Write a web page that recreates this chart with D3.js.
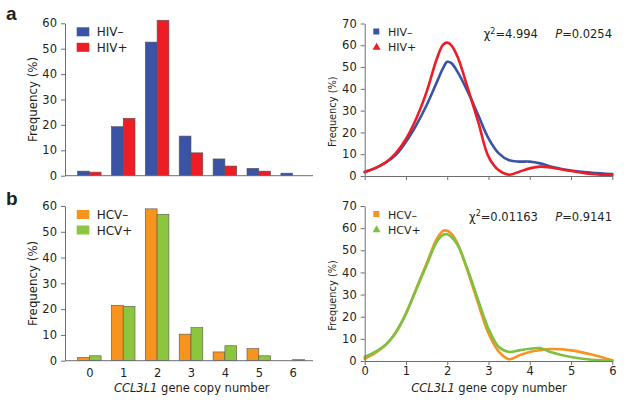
<!DOCTYPE html>
<html><head><meta charset="utf-8">
<script src="https://cdn.jsdelivr.net/npm/d3@7"></script>
<style>
body{margin:0;background:#fff}
text{font-family:"DejaVu Sans",Verdana,sans-serif;fill:#231f20}
</style>
</head><body><svg id="c" width="624" height="402"></svg>
<script>
// ---- data ----
const copyNumbers = [0,1,2,3,4,5,6];
const hivNegBars = [1.8,19.3,52.6,15.6,6.6,2.9,1.0];
const hivPosBars = [1.4,22.6,61.2,9.0,3.8,1.8,0];
const hcvNegBars = [1.3,21.5,58.9,10.3,3.4,4.7,0];
const hcvPosBars = [1.9,21.1,56.8,12.8,5.8,1.9,0.4];
const barTicks = [0,10,20,30,40,50,60];
const curveTicks = [0,10,20,30,40,50,60,70];
const curveX = [0,0.25,0.5,0.75,1,1.25,1.5,1.75,1.9,2,2.1,2.25,2.5,2.75,3,3.25,3.5,3.75,4,4.25,4.5,5,5.5,6];
const hivNegCurve = [2.0,3.5,6.1,9.6,15.7,23.4,32.5,43.2,49.5,52.4,51.8,47.8,38.6,28,17.3,10.4,7.2,6.6,6.6,5.8,4.4,2.5,1.5,0.9];
const hivPosCurve = [1.7,3.6,6.1,10.4,17,26.4,38.6,53.9,60.3,61.2,60,54.7,40.2,24.9,8.9,2.6,0.6,2.0,3.5,4.3,3.9,2.3,0.9,0.3];
const hcvNegCurve = [1.0,3.5,7.2,12.8,21.4,32.7,44,55.3,58.8,58.8,57.5,53,40.3,26,12.5,4.2,0.8,2.6,4.1,4.9,5.4,4.8,2.9,0.3];
const hcvPosCurve = [1.8,4.1,7.2,12.8,21.4,32.3,43.3,54,57,57.2,56,52.5,41,27.5,14.6,6.3,4.1,4.8,5.5,5.8,4.1,1.8,0.6,0.2];
const hivLabels = ["HIV\u2013","HIV+"];
const hcvLabels = ["HCV\u2013","HCV+"];
const hivStats = {chi:"4.994", p:"0.0254"};
const hcvStats = {chi:"0.01163", p:"0.9141"};

const C = {blue:"#3a53a4", red:"#ee1c25", orange:"#f7941d", green:"#8cc63f", axis:"#6d6e71"};
const svg = d3.select("#c");

svg.append("text").attr("x",6).attr("y",20).text("a")
  .style("font-family","Liberation Sans, Arial, sans-serif").style("font-weight","bold").style("font-size","19px");
svg.append("text").attr("x",6).attr("y",205).text("b")
  .style("font-family","Liberation Sans, Arial, sans-serif").style("font-weight","bold").style("font-size","19px");

function styleAxis(g){
  g.selectAll("path,line").attr("stroke",C.axis).attr("stroke-width",1);
  g.selectAll("text").style("font-size","11.5px").style("font-family","DejaVu Sans, Verdana, sans-serif").attr("fill","#231f20");
}

function xLabel(g, cx){
  const t = g.append("text").attr("x",cx).attr("y",392).attr("text-anchor","middle").style("font-size","11.5px");
  t.append("tspan").style("font-style","italic").text("CCL3L1");
  t.append("tspan").text(" gene copy number");
}

function barPanel(top, bottom, neg, pos, cols, labels, showX){
  const y = d3.scaleLinear().domain([0,60]).range([bottom, top]);
  const x = d3.scalePoint().domain(copyNumbers).range([89.3, 292.7]);
  const bw = 11.8;
  const g = svg.append("g");
  copyNumbers.forEach((c,i)=>{
    [[neg[i],cols[0],-bw],[pos[i],cols[1],0]].forEach(([v,col,off])=>{
      if(v<=0) return;
      g.append("rect").attr("x",x(c)+off).attr("y",y(v)).attr("width",bw).attr("height",y(0)-y(v))
        .attr("fill",col).attr("stroke","#555").attr("stroke-width",0.6);
    });
  });
  const ya = g.append("g").attr("transform","translate(65,0)")
    .call(d3.axisLeft(y).tickValues(barTicks).tickSize(4).tickSizeOuter(0).tickPadding(4));
  styleAxis(ya);
  g.append("line").attr("x1",65).attr("x2",313).attr("y1",y(0)).attr("y2",y(0)).attr("stroke",C.axis);
  if(showX){
    const xa = g.append("g").attr("transform",`translate(0,${y(0)})`)
      .call(d3.axisBottom(x).tickSize(0).tickPadding(8.5));
    xa.select(".domain").remove();
    styleAxis(xa);
    xLabel(g, 191.7);
  }
  g.append("text").attr("transform",`translate(37,${(top+bottom)/2}) rotate(-90)`)
    .attr("text-anchor","middle").style("font-size","11.8px").text("Frequency (%)");
  labels.forEach((l,i)=>{
    const ly = top + 4 + i*15.5;
    g.append("rect").attr("x",76.7).attr("y",ly).attr("width",12.6).attr("height",9).attr("fill",cols[i]);
    g.append("text").attr("x",96.7).attr("y",ly+9).style("font-size","12px").text(l);
  });
}

function curvePanel(top, bottom, neg, pos, cols, labels, stats, showX){
  const y = d3.scaleLinear().domain([0,70]).range([bottom, top]);
  const x = d3.scaleLinear().domain([0,6]).range([364.7, 612.3]);
  const g = svg.append("g");
  const line = d3.line().x((d,i)=>x(curveX[i])).y(d=>y(d)).curve(d3.curveCatmullRom.alpha(0.5));
  [[neg,cols[0]],[pos,cols[1]]].forEach(([s,col])=>{
    g.append("path").attr("d",line(s)).attr("fill","none").attr("stroke",col).attr("stroke-width",2.6)
      .attr("stroke-linejoin","round").attr("stroke-linecap","round");
  });
  const ya = g.append("g").attr("transform","translate(364.7,0)")
    .call(d3.axisLeft(y).tickValues(curveTicks).tickSize(4).tickSizeOuter(0).tickPadding(4));
  styleAxis(ya);
  const xa = g.append("g").attr("transform",`translate(0,${bottom})`)
    .call(d3.axisBottom(x).tickValues(copyNumbers).tickSize(4).tickSizeOuter(0).tickPadding(2)
      .tickFormat(showX? d3.format("d") : ()=>""));
  styleAxis(xa);
  if(showX) xLabel(g, 489);
  g.append("text").attr("transform",`translate(336,${(top+bottom)/2+12}) rotate(-90)`)
    .attr("text-anchor","middle").style("font-size","9.8px").text("Frequency (%)");
  const mk0 = top + 8, mk1 = top + 24;
  g.append("rect").attr("x",373.3).attr("y",mk0-3).attr("width",6).attr("height",6).attr("fill",cols[0]);
  g.append("path").attr("d",d3.symbol().type(d3.symbolTriangle).size(28)()).attr("transform",`translate(376.6,${mk1})`).attr("fill",cols[1]);
  g.append("text").attr("x",388).attr("y",mk0+4.5).style("font-size","11px").text(labels[0]);
  g.append("text").attr("x",388).attr("y",mk1+3.5).style("font-size","11px").text(labels[1]);
  const st = g.append("text").attr("x",612).attr("y",top+14.5).attr("text-anchor","end").style("font-size","11.5px");
  st.append("tspan").text("\u03c7");
  st.append("tspan").attr("dy",-4.5).style("font-size","8px").text("2");
  st.append("tspan").attr("dy",4.5).text("="+stats.chi+"\u2003\u2002");
  st.append("tspan").style("font-style","italic").text("P");
  st.append("tspan").text("="+stats.p);
}

barPanel(23.3, 175.7, hivNegBars, hivPosBars, [C.blue,C.red], hivLabels, false);
barPanel(206, 360.7, hcvNegBars, hcvPosBars, [C.orange,C.green], hcvLabels, true);
curvePanel(23.5, 176, hivNegCurve, hivPosCurve, [C.blue,C.red], hivLabels, hivStats, false);
curvePanel(206, 361, hcvNegCurve, hcvPosCurve, ["#f7931e","#7dc142"], hcvLabels, hcvStats, true);
</script>
</body></html>
